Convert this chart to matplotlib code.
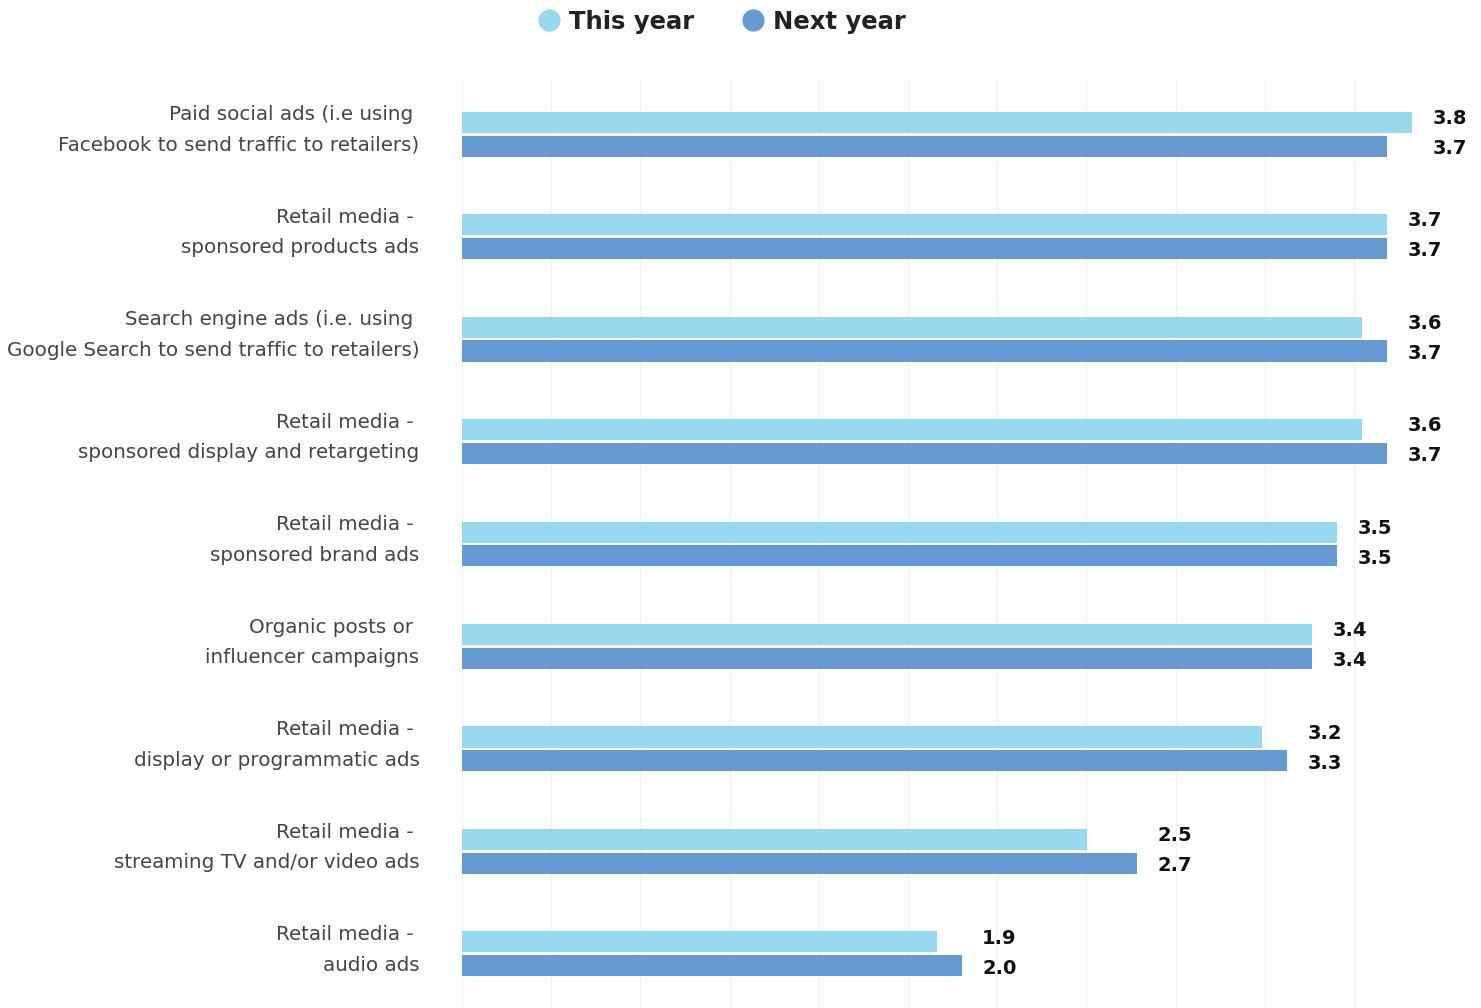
import matplotlib
matplotlib.use("Agg")
import matplotlib.pyplot as plt
from matplotlib.lines import Line2D
import numpy as np

categories = [
    "Paid social ads (i.e using \nFacebook to send traffic to retailers)",
    "Retail media - \nsponsored products ads",
    "Search engine ads (i.e. using \nGoogle Search to send traffic to retailers)",
    "Retail media - \nsponsored display and retargeting",
    "Retail media - \nsponsored brand ads",
    "Organic posts or \ninfluencer campaigns",
    "Retail media - \ndisplay or programmatic ads",
    "Retail media - \nstreaming TV and/or video ads",
    "Retail media - \naudio ads",
]
this_year = [3.8, 3.7, 3.6, 3.6, 3.5, 3.4, 3.2, 2.5, 1.9]
next_year = [3.7, 3.7, 3.7, 3.7, 3.5, 3.4, 3.3, 2.7, 2.0]
series_names = ["This year", "Next year"]

LIGHT = "#98D9F0"
DARK = "#669AD2"
TEXT = "#444444"

plt.rcParams["font.family"] = ["DejaVu Sans"]

W, H = 1481, 1008
fig = plt.figure(figsize=(W / 100, H / 100), dpi=100)
ax = fig.add_axes([462 / W, 0, (W - 462) / W, 1 - 80 / H])

y = np.arange(len(categories))
bar_h = 0.205
off = 0.117

# faint vertical guides
for k in range(11):
    ax.axvline(k * 0.3568, color="#f3f3f3", lw=1, zorder=0)

ax.barh(y - off, this_year, height=bar_h, color=LIGHT, zorder=2)
ax.barh(y + off, next_year, height=bar_h, color=DARK, zorder=2)

for i in range(len(categories)):
    xpos = max(this_year[i], next_year[i]) + 0.15
    ax.text(xpos, y[i] - off - 0.035, f"{this_year[i]:.1f}", ha="center", va="center",
            fontsize=14, fontweight="bold", color="#111111")
    ax.text(xpos, y[i] + off + 0.02, f"{next_year[i]:.1f}", ha="center", va="center",
            fontsize=14, fontweight="bold", color="#111111")
    ax.text(-0.17, y[i] - 0.04, categories[i], ha="right", va="center",
            fontsize=14.3, color=TEXT, linespacing=1.75)

ax.set_xlim(0, (W - 462) / 250)
ax.set_ylim(len(categories) - 1 + 0.527, -0.527)
ax.axis("off")

handles = [
    Line2D([], [], marker="o", linestyle="none", markersize=15,
           markerfacecolor=LIGHT, markeredgecolor=LIGHT),
    Line2D([], [], marker="o", linestyle="none", markersize=15,
           markerfacecolor=DARK, markeredgecolor=DARK),
]
leg = fig.legend(handles, series_names, loc="upper center", ncol=2,
                 bbox_to_anchor=(0.487, 1.012), frameon=False,
                 prop={"size": 17.5, "weight": "bold"},
                 handletextpad=0.35, columnspacing=1.9, handlelength=1.0)
for t in leg.get_texts():
    t.set_color("#222222")

fig.savefig("out.png", dpi=100)
